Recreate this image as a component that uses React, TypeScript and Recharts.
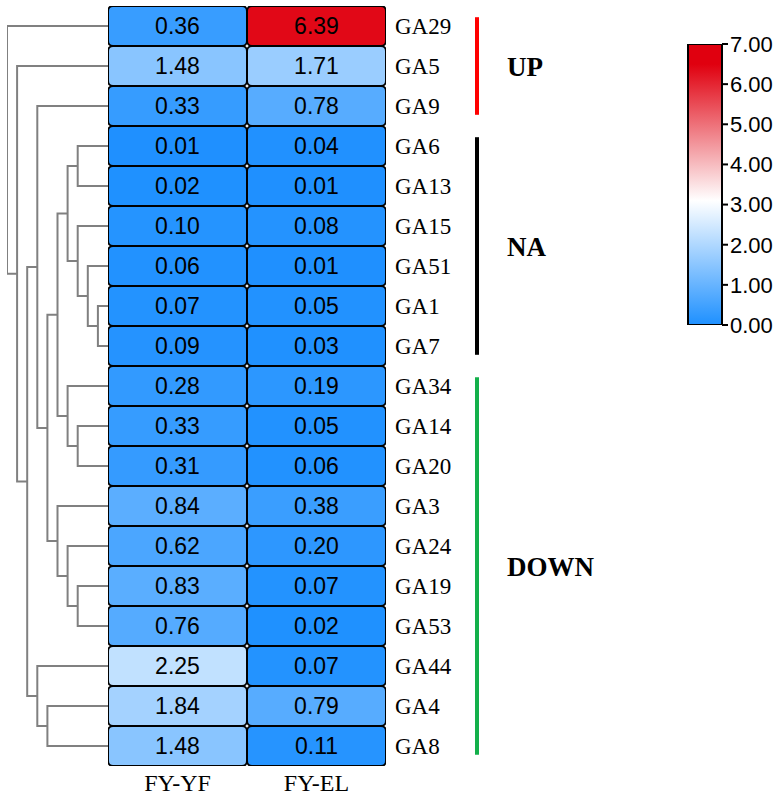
import React from 'react'
import { ComposedChart, ScatterChart, BarChart, Bar, Scatter, XAxis, YAxis, ReferenceLine } from 'recharts'

const GENES = ['GA29', 'GA5', 'GA9', 'GA6', 'GA13', 'GA15', 'GA51', 'GA1', 'GA7', 'GA34', 'GA14', 'GA20', 'GA3', 'GA24', 'GA19', 'GA53', 'GA44', 'GA4', 'GA8']
const COLUMNS = ['FY-YF', 'FY-EL']
const FY_YF = [0.36, 1.48, 0.33, 0.01, 0.02, 0.1, 0.06, 0.07, 0.09, 0.28, 0.33, 0.31, 0.84, 0.62, 0.83, 0.76, 2.25, 1.84, 1.48]
const FY_EL = [6.39, 1.71, 0.78, 0.04, 0.01, 0.08, 0.01, 0.05, 0.03, 0.19, 0.05, 0.06, 0.38, 0.2, 0.07, 0.02, 0.07, 0.79, 0.11]

// cluster merges: [node, left child, right child, height]
const MERGES: [string, string, string, number][] = [
  ['n1', 'GA1', 'GA7', 1],
  ['n2', 'GA51', 'n1', 2],
  ['n3', 'GA15', 'n2', 3],
  ['n4', 'GA6', 'GA13', 3],
  ['n5', 'n4', 'n3', 4],
  ['n6', 'GA14', 'GA20', 3],
  ['n7', 'GA34', 'n6', 4],
  ['n8', 'n5', 'n7', 5],
  ['n9', 'GA19', 'GA53', 3],
  ['n10', 'GA24', 'n9', 4],
  ['n11', 'GA3', 'n10', 5],
  ['n12', 'n8', 'n11', 6],
  ['n13', 'GA9', 'n12', 7],
  ['n14', 'GA4', 'GA8', 6],
  ['n15', 'GA44', 'n14', 7],
  ['n16', 'n13', 'n15', 8],
  ['n17', 'GA5', 'n16', 9],
  ['root', 'GA29', 'n17', 10],
]

const GROUP_NAMES = ['UP', 'NA', 'DOWN']
const GROUP_FIRST = [0, 3, 9]
const GROUP_LAST = [2, 8, 18]
const GROUP_COLORS = ['#FF0000', '#000000', '#13B04B']

const LEGEND_TICKS = [0, 1, 2, 3, 4, 5, 6, 7]
const STOP_VALUES = [0, 3.1, 6.5, 7]
const STOP_COLORS = ['#1E90FF', '#FFFFFF', '#E0000F', '#E0000F']

const W = 780
const H = 799
const TOP = 6
const BOTTOM = 33
const HEAT_LEFT = 108
const HEAT_RIGHT = 386
const ROW_AXIS_W = 80
const CELL_W = (HEAT_RIGHT - HEAT_LEFT) / COLUMNS.length
const CELL_H = (H - TOP - BOTTOM) / GENES.length
const SERIF = 'Liberation Serif, Times New Roman, serif'
const SANS = 'Liberation Sans, Arial, sans-serif'

const hexToRgb = (h: string) => [1, 3, 5].map((i) => parseInt(h.slice(i, i + 2), 16))

function colorFor(v: number) {
  let i = 0
  while (i < STOP_VALUES.length - 2 && v > STOP_VALUES[i + 1]) i++
  const t = Math.max(0, Math.min(1, (v - STOP_VALUES[i]) / (STOP_VALUES[i + 1] - STOP_VALUES[i])))
  const a = hexToRgb(STOP_COLORS[i])
  const b = hexToRgb(STOP_COLORS[i + 1])
  const c = a.map((x, k) => Math.round(x + (b[k] - x) * t))
  return `rgb(${c[0]},${c[1]},${c[2]})`
}

const cells = GENES.flatMap((g, i) => [
  { col: 0, row: i, gene: g, value: FY_YF[i] },
  { col: 1, row: i, gene: g, value: FY_EL[i] },
])

// build elbow paths for the dendrogram
const nodes: Record<string, { y: number; h: number }> = {}
GENES.forEach((g, i) => (nodes[g] = { y: i, h: 0 }))
const branches = MERGES.map(([id, a, b, h]) => {
  const A = nodes[a]
  const B = nodes[b]
  nodes[id] = { y: (A.y + B.y) / 2, h }
  return [
    { x: A.h, y: A.y },
    { x: h, y: A.y },
    { x: h, y: B.y },
    { x: B.h, y: B.y },
  ]
})

const groups = GROUP_NAMES.map((name, i) => ({
  name,
  from: GROUP_FIRST[i] - 0.22,
  to: GROUP_LAST[i] + 0.22,
  color: GROUP_COLORS[i],
}))

function HeatCell(props: any) {
  const { cx, cy, payload } = props
  if (cx == null || cy == null) return <g />
  return (
    <g>
      <rect
        x={cx - CELL_W / 2}
        y={cy - CELL_H / 2}
        width={CELL_W}
        height={CELL_H}
        rx={5}
        ry={5}
        fill={colorFor(payload.value)}
        stroke="#000"
        strokeWidth={2}
      />
      <text x={cx} y={cy} dy="0.36em" textAnchor="middle" fontSize={23} fontFamily={SANS} fill="#000">
        {payload.value.toFixed(2)}
      </text>
    </g>
  )
}

const noDot = () => <g />

export default function App() {
  return (
    <div style={{ position: 'absolute', left: 0, top: 0, width: W, height: H, background: '#fff' }}>
      {/* dendrogram */}
      <div style={{ position: 'absolute', left: 0, top: 0 }}>
        <ComposedChart width={HEAT_LEFT + 2} height={H} margin={{ top: TOP, right: 2, bottom: BOTTOM, left: 7 }}>
          <XAxis type="number" dataKey="x" domain={[0, 10]} reversed hide allowDataOverflow />
          <YAxis type="number" dataKey="y" domain={[-0.5, GENES.length - 0.5]} reversed hide allowDataOverflow />
          {branches.map((pts, i) => (
            <Scatter
              key={i}
              data={pts}
              line={{ stroke: '#808080', strokeWidth: 2 }}
              shape={noDot}
              isAnimationActive={false}
            />
          ))}
        </ComposedChart>
      </div>

      {/* heatmap */}
      <div style={{ position: 'absolute', left: 0, top: 0 }}>
        <ScatterChart
          width={W}
          height={H}
          margin={{ top: TOP, right: W - HEAT_RIGHT - ROW_AXIS_W, bottom: 0, left: HEAT_LEFT }}
        >
          <XAxis
            type="number"
            dataKey="col"
            domain={[-0.5, COLUMNS.length - 0.5]}
            ticks={COLUMNS.map((_, i) => i)}
            tickFormatter={(v: number) => COLUMNS[v]}
            interval={0}
            height={BOTTOM}
            axisLine={false}
            tickLine={false}
            allowDataOverflow
            tick={{ fill: '#000', fontSize: 24, fontFamily: SERIF }}
          />
          <YAxis
            type="number"
            dataKey="row"
            orientation="right"
            reversed
            domain={[-0.5, GENES.length - 0.5]}
            ticks={GENES.map((_, i) => i)}
            tickFormatter={(v: number) => GENES[v]}
            interval={0}
            width={ROW_AXIS_W}
            axisLine={false}
            tickLine={false}
            tickMargin={3}
            allowDataOverflow
            tick={{ fill: '#000', fontSize: 23, fontFamily: SERIF }}
          />
          <Scatter data={cells} shape={<HeatCell />} isAnimationActive={false} />
        </ScatterChart>
      </div>

      {/* group bars */}
      <div style={{ position: 'absolute', left: 0, top: 0 }}>
        <ComposedChart width={W} height={H} data={groups} margin={{ top: TOP, right: 3, bottom: BOTTOM, left: 477 }}>
          <XAxis type="number" domain={[0, 1]} hide allowDataOverflow />
          <YAxis type="number" domain={[-0.5, GENES.length - 0.5]} reversed hide allowDataOverflow />
          {groups.map((g) => (
            <ReferenceLine
              key={g.name}
              segment={[
                { x: 0, y: g.from },
                { x: 0, y: g.to },
              ]}
              stroke={g.color}
              strokeWidth={4}
              ifOverflow="visible"
              label={{
                value: g.name,
                position: 'right',
                offset: 30,
                fill: '#000',
                fontSize: 27,
                fontWeight: 'bold',
                fontFamily: SERIF,
              }}
            />
          ))}
        </ComposedChart>
      </div>

      {/* colour legend */}
      <div style={{ position: 'absolute', left: 680, top: 30 }}>
        <BarChart
          width={100}
          height={310}
          data={[{ name: 'scale', max: 7 }]}
          margin={{ top: 14, right: 0, bottom: 15, left: 8 }}
          barCategoryGap={0}
        >
          <defs>
            <linearGradient id="heatGrad" x1="0" y1="1" x2="0" y2="0">
              {STOP_VALUES.map((v, i) => (
                <stop key={i} offset={v / 7} stopColor={STOP_COLORS[i]} />
              ))}
            </linearGradient>
          </defs>
          <XAxis dataKey="name" hide />
          <YAxis
            orientation="right"
            domain={[0, 7]}
            ticks={LEGEND_TICKS}
            tickFormatter={(v: number) => v.toFixed(2)}
            interval={0}
            width={58}
            axisLine={false}
            tickLine={{ stroke: '#000', strokeWidth: 2 }}
            tickSize={6}
            tickMargin={2}
            allowDataOverflow
            tick={{ fill: '#000', fontSize: 22, fontFamily: SANS }}
          />
          <Bar dataKey="max" fill="url(#heatGrad)" stroke="#000" strokeWidth={2} isAnimationActive={false} />
        </BarChart>
      </div>
    </div>
  )
}
